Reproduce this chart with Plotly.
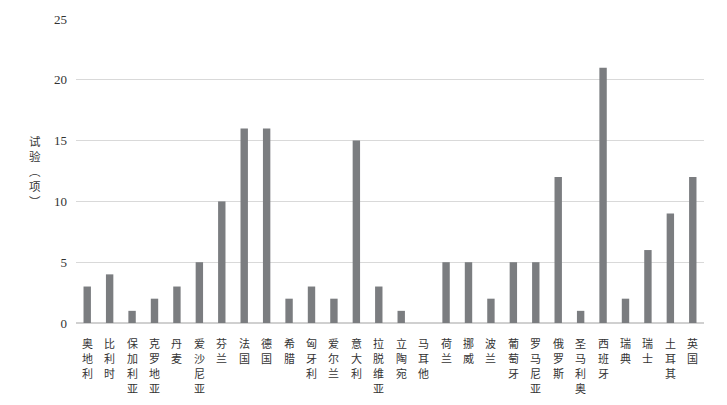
"""
Trials per country bar chart.
"""
import plotly.graph_objects as go

countries = ['奥地利', '比利时', '保加利亚', '克罗地亚', '丹麦', '爱沙尼亚', '芬兰',
             '法国', '德国', '希腊', '匈牙利', '爱尔兰', '意大利', '拉脱维亚',
             '立陶宛', '马耳他', '荷兰', '挪威', '波兰', '葡萄牙', '罗马尼亚',
             '俄罗斯', '圣马利奥', '西班牙', '瑞典', '瑞士', '土耳其', '英国']
trials = [3, 4, 1, 2, 3, 5, 10, 16, 16, 2, 3, 2, 15, 3, 1, 0, 5, 5, 2, 5, 5,
          12, 1, 21, 2, 6, 9, 12]
y_ticks = [0, 5, 10, 15, 20, 25]
y_title = '试验︵项︶'

fig = go.Figure()
fig.add_trace(go.Bar(x=countries, y=trials, marker_color='#7b7d80',
                     marker_line_width=0))

# page body has an 8px margin, so the figure is a bit smaller than the window
fig.update_layout(
    width=719, height=397,
    margin=dict(l=68, r=23, t=11, b=82),
    plot_bgcolor='white', paper_bgcolor='white',
    bargap=0.67,
    showlegend=False,
    font=dict(family='Liberation Serif, Noto Sans CJK SC', color='#333333'),
)
fig.update_xaxes(showticklabels=False, showline=False, ticks='', automargin=False)
fig.update_yaxes(range=[0, 25], tickvals=y_ticks, showgrid=True,
                 gridcolor='#d9d9d9', gridwidth=1.3, zeroline=True,
                 zerolinecolor='#d0d0d0', zerolinewidth=1.5,
                 tickfont=dict(size=13), ticklabelstandoff=8, automargin=False)

# category names written top to bottom, one character at a time
for name in countries:
    for i, ch in enumerate(name):
        fig.add_annotation(x=name, y=0, xref='x', yref='y', text=ch,
                           showarrow=False, yanchor='middle', yshift=-(20 + 15 * i),
                           font=dict(size=11, family='Noto Sans CJK SC',
                                     color='#333333'))

fig.add_annotation(text='<br>'.join(y_title), xref='paper', yref='paper',
                   x=-0.065, y=0.5, showarrow=False, xanchor='center',
                   font=dict(size=11.5, family='Noto Sans CJK SC', color='#333333'))

fig.write_html("out.html")
